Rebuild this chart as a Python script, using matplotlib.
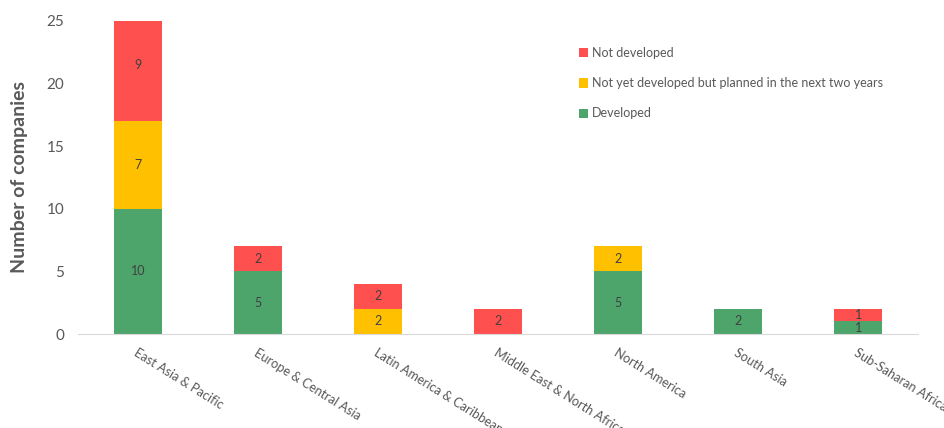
import numpy as np
import matplotlib
matplotlib.use("Agg")
from matplotlib import pyplot as plt

regions = ["East Asia & Pacific", "Europe & Central Asia", "Latin America & Caribbean",
           "Middle East & North Africa", "North America", "South Asia", "Sub-Saharan Africa"]
developed = [10, 5, 0, 0, 5, 2, 1]
planned = [7, 0, 2, 0, 2, 0, 0]
not_developed = [9, 2, 2, 2, 0, 0, 1]

plt.rcParams['font.family'] = ['Lato', 'DejaVu Sans']
grey = "#595959"

fig = plt.figure(figsize=(9.44, 4.28), dpi=100, facecolor="w")
ax = fig.add_axes([0.0826, 0.2196, 0.89, 0.7314])

x = np.arange(len(regions))
series = [(developed, "#4EA56B", "Developed"),
          (planned, "#FFC000", "Not yet developed but planned in the next two years"),
          (not_developed, "#FF5050", "Not developed")]
bottom = np.zeros(len(regions))
for vals, col, lab in series:
    vals = np.array(vals)
    ax.bar(x, vals, width=0.4, bottom=bottom, color=col, label=lab)
    for xi, b, v in zip(x, bottom, vals):
        if v > 0:
            ax.text(xi, b + v / 2, str(v), ha="center", va="center", fontsize=9, color="#404040")
    bottom = bottom + vals

ax.set_xlim(-0.5, len(regions) - 0.5)
ax.set_ylim(0, 25)
ax.set_yticks([0, 5, 10, 15, 20, 25])
ax.tick_params(axis="y", length=0, labelsize=11, labelcolor=grey, pad=10)
ax.tick_params(axis="x", length=0, labelsize=9.2, labelcolor=grey, pad=9)
ax.set_xticks(x)
ax.set_xticklabels(regions, rotation=-32, ha="left", va="top", rotation_mode="anchor")
for s in ["top", "right", "left"]:
    ax.spines[s].set_visible(False)
ax.spines["bottom"].set_color("#D9D9D9")
ax.set_ylabel("Number of companies", fontsize=14, fontweight="bold", color=grey, labelpad=13)

h, l = ax.get_legend_handles_labels()
leg = ax.legend(h[::-1], l[::-1], loc="upper left", bbox_to_anchor=(0.583, 0.952), frameon=False,
                fontsize=9, handlelength=0.75, handleheight=0.75, handletextpad=0.3,
                labelspacing=1.45, labelcolor=grey)

plt.savefig("out.png", dpi=100)
